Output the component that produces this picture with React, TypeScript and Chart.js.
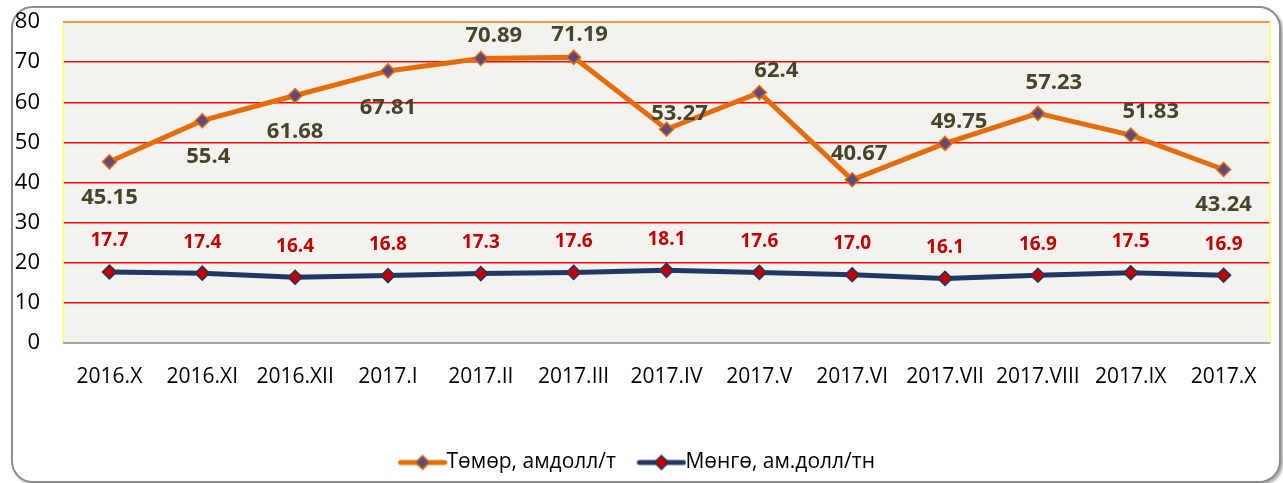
import React, { useEffect, useRef } from "react";
import { Chart, registerables } from "chart.js";

Chart.register(...registerables);

const categories = [
  "2016.X", "2016.XI", "2016.XII", "2017.I", "2017.II", "2017.III", "2017.IV",
  "2017.V", "2017.VI", "2017.VII", "2017.VIII", "2017.IX", "2017.X",
];
const ironValues = [45.15, 55.4, 61.68, 67.81, 70.89, 71.19, 53.27, 62.4, 40.67, 49.75, 57.23, 51.83, 43.24];
const silverValues = [17.7, 17.4, 16.4, 16.8, 17.3, 17.6, 18.1, 17.6, 17.0, 16.1, 16.9, 17.5, 16.9];
const ironLabels = ["45.15", "55.4", "61.68", "67.81", "70.89", "71.19", "53.27", "62.4", "40.67", "49.75", "57.23", "51.83", "43.24"];
const silverLabels = ["17.7", "17.4", "16.4", "16.8", "17.3", "17.6", "18.1", "17.6", "17.0", "16.1", "16.9", "17.5", "16.9"];
const seriesNames = ["Төмөр, амдолл/т", "Мөнгө, ам.долл/тн"];
const yMin = 0;
const yMax = 80;
const yStep = 10;

// label placement (style only)
const ironLabelDx = [0, 6, 0, 0, 13, 6, 13, 17, 7, 14, 16, 20, 0];
const ironLabelDy = [36, 36, 36, 37, -23, -23, -16, -22, -26, -22, -31, -23, 35];
const silverLabelDy = -31;

const FONT = '"Open Sans", "Noto Sans", sans-serif';
const IRON_LINE = "#E46C0A";
const IRON_MARK = "#604A7B";
const SILVER_LINE = "#1F3864";
const SILVER_MARK = "#C00000";

// icon: visible part 49px wide, placed at right part of a 64px image
function makeIcon(line: string, fill: string): HTMLCanvasElement {
  const c = document.createElement("canvas");
  c.width = 64;
  c.height = 18;
  const ctx = c.getContext("2d")!;
  const x0 = 14.5;
  const x1 = 63.5;
  const cx = (x0 + x1) / 2;
  ctx.strokeStyle = line;
  ctx.lineWidth = 5;
  ctx.lineCap = "round";
  ctx.beginPath();
  ctx.moveTo(x0 + 2.5, 9);
  ctx.lineTo(x1 - 2.5, 9);
  ctx.stroke();
  ctx.beginPath();
  ctx.moveTo(cx, 2);
  ctx.lineTo(cx + 7, 9);
  ctx.lineTo(cx, 16);
  ctx.lineTo(cx - 7, 9);
  ctx.closePath();
  ctx.fillStyle = fill;
  ctx.fill();
  ctx.lineWidth = 1.5;
  ctx.strokeStyle = line;
  ctx.stroke();
  return c;
}

const decorPlugin = {
  id: "decor",
  beforeDraw(chart: any) {
    const { ctx, chartArea } = chart;
    const { left, top, right, bottom } = chartArea;
    ctx.save();
    ctx.fillStyle = "#F3F2EE";
    ctx.fillRect(left, top, right - left, bottom - top);
    ctx.restore();
  },
  beforeDatasetsDraw(chart: any) {
    const { ctx, chartArea } = chart;
    const { left, top, right, bottom } = chartArea;
    ctx.save();
    ctx.lineWidth = 1.5;
    ctx.strokeStyle = "#FFFF66";
    ctx.beginPath();
    ctx.moveTo(left, top);
    ctx.lineTo(left, bottom);
    ctx.moveTo(right, top);
    ctx.lineTo(right, bottom);
    ctx.stroke();
    ctx.lineWidth = 2;
    ctx.strokeStyle = "#F79646";
    ctx.beginPath();
    ctx.moveTo(left, top);
    ctx.lineTo(right, top);
    ctx.stroke();
    ctx.strokeStyle = "#A6A6A6";
    ctx.beginPath();
    ctx.moveTo(left, bottom);
    ctx.lineTo(right, bottom);
    ctx.stroke();
    ctx.restore();
  },
  afterDatasetsDraw(chart: any) {
    const { ctx } = chart;
    ctx.save();
    ctx.textAlign = "center";
    ctx.textBaseline = "middle";
    const m0 = chart.getDatasetMeta(0);
    ctx.font = `bold 22px ${FONT}`;
    ctx.fillStyle = "#494429";
    m0.data.forEach((p: any, i: number) => {
      ctx.fillText(ironLabels[i], p.x + ironLabelDx[i], p.y + ironLabelDy[i]);
    });
    const m1 = chart.getDatasetMeta(1);
    ctx.font = `bold 19px ${FONT}`;
    ctx.fillStyle = "#C00000";
    m1.data.forEach((p: any, i: number) => {
      ctx.fillText(silverLabels[i], p.x, p.y + silverLabelDy);
    });
    ctx.restore();
  },
};

export default function App() {
  const ref = useRef<HTMLCanvasElement>(null);

  useEffect(() => {
    if (!ref.current) return;
    const icons = [makeIcon(IRON_LINE, IRON_MARK), makeIcon(SILVER_LINE, SILVER_MARK)];
    const chart = new Chart(ref.current, {
      type: "line",
      data: {
        labels: categories,
        datasets: [
          {
            label: seriesNames[0],
            data: ironValues,
            borderColor: IRON_LINE,
            borderWidth: 5,
            pointStyle: "rectRot",
            pointRadius: 7,
            pointBackgroundColor: IRON_MARK,
            pointBorderColor: IRON_LINE,
            pointBorderWidth: 1.5,
            tension: 0,
          },
          {
            label: seriesNames[1],
            data: silverValues,
            borderColor: SILVER_LINE,
            borderWidth: 5,
            pointStyle: "rectRot",
            pointRadius: 7,
            pointBackgroundColor: SILVER_MARK,
            pointBorderColor: SILVER_LINE,
            pointBorderWidth: 1.5,
            tension: 0,
          },
        ],
      },
      options: {
        responsive: false,
        animation: false,
        devicePixelRatio: 1,
        layout: { padding: { left: 0, top: 22, right: 13, bottom: 0 } },
        plugins: {
          tooltip: { enabled: false },
          legend: {
            position: "bottom",
            labels: {
              usePointStyle: true,
              pointStyleWidth: 41,
              padding: 18,
              color: "#000",
              font: { size: 21, family: FONT },
              generateLabels: (c: any) => {
                const items = Chart.defaults.plugins.legend.labels.generateLabels(c);
                return items.map((it: any, i: number) => ({ ...it, pointStyle: icons[i] }));
              },
            },
          },
        },
        scales: {
          x: {
            offset: true,
            grid: { display: false, drawTicks: false },
            border: { display: false },
            ticks: {
              autoSkip: false,
              maxRotation: 0,
              padding: 21,
              color: "#000",
              font: { size: 21, family: FONT },
            },
            afterFit: (s: any) => {
              s.height = 434 - 343;
            },
          },
          y: {
            min: yMin,
            max: yMax,
            grid: { color: "#FF0000", lineWidth: 1.5, drawTicks: false },
            border: { display: false },
            ticks: {
              stepSize: yStep,
              padding: 23,
              color: "#000",
              font: { size: 22, family: FONT },
            },
            afterFit: (s: any) => {
              s.width = 63;
              s.paddingTop = 12;
              s.paddingBottom = 12;
            },
          },
        },
      },
      plugins: [decorPlugin],
    });
    return () => chart.destroy();
  }, []);

  return (
    <div style={{ position: "fixed", left: 0, top: 0, width: 1283, height: 483, overflow: "hidden", background: "#fff" }}>
      <div
        style={{
          position: "absolute",
          left: 11,
          top: 6,
          width: 1270,
          height: 477,
          boxSizing: "border-box",
          border: "2px solid #8c8c8c",
          borderRadius: 22,
          boxShadow: "2px 2px 3px rgba(0,0,0,0.35)",
          background: "#fff",
        }}
      />
      <canvas ref={ref} width={1283} height={483} style={{ position: "absolute", left: 0, top: 0, width: 1283, height: 483 }} />
    </div>
  );
}
